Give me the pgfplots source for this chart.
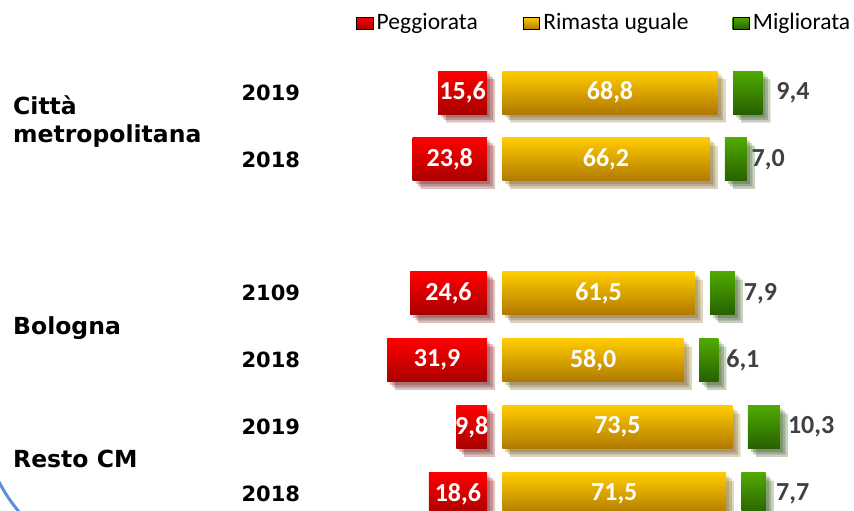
\documentclass[border=0pt]{standalone}
\usepackage{fontspec}
\usepackage{pgfplots}
\usepackage{pgfplotstable}
\pgfplotsset{compat=1.18}
\newfontfamily\cali{Carlito}
\newfontfamily\verd{DejaVu Sans}
\definecolor{redT}{RGB}{255,0,0}
\definecolor{redB}{RGB}{168,0,0}
\definecolor{yelT}{RGB}{255,204,0}
\definecolor{yelB}{RGB}{176,120,0}
\definecolor{grnT}{RGB}{80,170,0}
\definecolor{grnB}{RGB}{38,96,0}
\definecolor{labgray}{RGB}{64,64,64}
\definecolor{arcblue}{RGB}{91,143,214}

\pgfplotstableread{
y peg rim mig sp gx yx pegl riml migl yl
6 15.6 68.8 9.4 4.9 92.4 -78.5 15,6 68,8 9,4 2019
5 23.8 66.2 7.0 4.9 84.5 -78.5 23,8 66,2 7,0 2018
3 24.6 61.5 7.9 4.9 82.0 -78.5 24,6 61,5 7,9 2109
2 31.9 58.0 6.1 4.9 76.4 -78.5 31,9 58,0 6,1 2018
1 9.8 73.5 10.3 4.9 96.1 -78.5 9,8 73,5 10,3 2019
0 18.6 71.5 7.7 4.9 92.3 -78.5 18,6 71,5 7,7 2018
}\datatab

\tikzset{
  shadowed/.style={
    preaction={fill=black, opacity=0.12, transform canvas={shift={(3pt,-3pt)}}},
    preaction={fill=black, opacity=0.13, transform canvas={shift={(5.5pt,-5.5pt)}}},
    preaction={fill=black, opacity=0.13, transform canvas={shift={(8pt,-8pt)}}}},
  valfont/.style={font=\cali\bfseries\fontsize{26}{30}\selectfont, inner sep=0pt},
}
\pgfplotsset{
  myax/.style={width=854pt, height=511pt, scale only axis,
    xmin=-155.6, xmax=117.25, ymin=-0.254, ymax=7.384,
    hide axis, clip=true, at={(0pt,0pt)}, anchor=south west},
  oneleg/.style={legend style={at={(#1,0.9746)}, anchor=north west, draw=none, fill=none,
    inner sep=0pt, font=\cali\fontsize{23.5}{27}\selectfont,
    nodes={inner sep=0pt},
    /tikz/every odd column/.append style={column sep=3.5pt}}},
}

\begin{document}
\begin{tikzpicture}
\useasboundingbox (0,0) rectangle (854pt,511pt);
\clip (0,0) rectangle (854pt,511pt);

% legend: one entry per (empty) axis, placed like the reference
\begin{axis}[myax, oneleg=0.4169]
\addlegendimage{legend image code/.code={\path[top color=redT, bottom color=redB] (0pt,-7.5pt) rectangle (16.5pt,5pt);}}
\addlegendentry{Peggiorata}
\end{axis}
\begin{axis}[myax, oneleg=0.6120]
\addlegendimage{legend image code/.code={\path[top color=yelT, bottom color=yelB] (0pt,-7.5pt) rectangle (16.5pt,5pt);}}
\addlegendentry{Rimasta uguale}
\end{axis}
\begin{axis}[myax, oneleg=0.8575]
\addlegendimage{legend image code/.code={\path[top color=grnT, bottom color=grnB] (0pt,-7.5pt) rectangle (16.5pt,5pt);}}
\addlegendentry{Migliorata}
\end{axis}

% right side: one stacked axis per row (yellow and green)
\pgfplotsinvokeforeach{6,5,3,2,1,0}{
\begin{axis}[myax, xbar stacked, bar width=43pt]
\addplot[draw=none, fill=none, restrict y to domain=#1:#1] table[x=sp, y=y] {\datatab};
\addplot[draw=none, top color=yelT, bottom color=yelB, shadowed, restrict y to domain=#1:#1] table[x=rim, y=y] {\datatab};
\addplot[draw=none, fill=none, restrict y to domain=#1:#1] table[x=sp, y=y] {\datatab};
\addplot[draw=none, top color=grnT, bottom color=grnB, shadowed, restrict y to domain=#1:#1] table[x=mig, y=y] {\datatab};
\end{axis}
}

% left side: red bars and all labels
\begin{axis}[myax]
\pgfplotsinvokeforeach{6,5,3,2,1,0}{
\addplot[xbar, bar width=43pt, bar shift=0pt, draw=none, top color=redT, bottom color=redB, shadowed, forget plot, restrict y to domain=#1:#1]
  table[x expr=-\thisrow{peg}, y=y] {\datatab};
}
% red labels
\addplot[draw=none, mark=none, nodes near coords, point meta=explicit symbolic, forget plot,
  nodes near coords align={anchor=center},
  every node near coord/.append style={valfont, text=white}]
  table[x expr=-\thisrow{peg}/2, y=y, meta=pegl] {\datatab};
% yellow labels
\addplot[draw=none, mark=none, nodes near coords, point meta=explicit symbolic, forget plot,
  nodes near coords align={anchor=center},
  every node near coord/.append style={valfont, text=white}]
  table[x expr=4.9+\thisrow{rim}/2, y=y, meta=riml] {\datatab};
% green labels
\addplot[draw=none, mark=none, nodes near coords, point meta=explicit symbolic, forget plot,
  nodes near coords align={anchor=west},
  every node near coord/.append style={valfont, text=labgray}]
  table[x=gx, y=y, meta=migl] {\datatab};
% year labels
\addplot[draw=none, mark=none, nodes near coords, point meta=explicit symbolic, forget plot,
  nodes near coords align={anchor=west},
  every node near coord/.append style={font=\verd\bfseries\fontsize{21}{25}\selectfont, inner sep=0pt, text=black}]
  table[x=yx, y=y, meta=yl] {\datatab};
\end{axis}

\begin{scope}[every node/.style={anchor=base west, inner sep=0pt, font=\verd\bfseries\fontsize{23.5}{28}\selectfont}]
\node at (13pt,396pt) {Città};
\node at (13pt,368pt) {metropolitana};
\node at (13pt,176pt) {Bologna};
\node at (13pt,43pt) {Resto CM};
\end{scope}

\draw[arcblue, line width=3pt] (-2pt,31pt) to[bend right=6] (20pt,-2pt);
\end{tikzpicture}
\end{document}
